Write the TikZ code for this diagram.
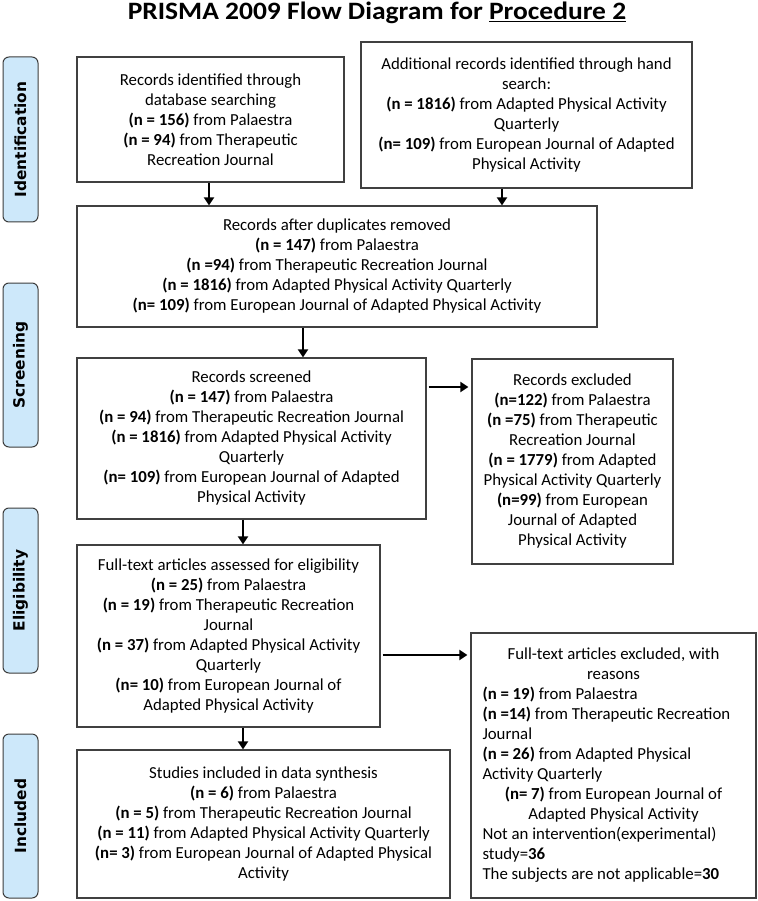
\documentclass[tikz,border=0pt]{standalone}
\usepackage{fontspec}
\setmainfont{Carlito}
\newfontfamily\titlefont{Carlito}[FakeStretch=1.1]
\newfontfamily\phasefont{DejaVu Sans}
\usetikzlibrary{arrows.meta,calc}
\definecolor{phasefill}{RGB}{205,232,250}
\definecolor{phaseline}{RGB}{60,60,60}
\definecolor{boxline}{RGB}{64,64,64}
\newcommand\ctrline[1]{\makebox[262pt][c]{#1}}
\begin{document}
\begin{tikzpicture}[x=1pt,y=-1pt,
  phase/.style={draw=phaseline, fill=phasefill, line width=1pt, rounded corners=6pt,
    rotate=90, inner sep=0pt, font=\phasefont\bfseries\fontsize{15.4}{18}\selectfont},
  box/.style={draw=boxline, line width=1.2pt, inner sep=0pt, align=center,
    font=\fontsize{16.8}{20}\selectfont},
  arr/.style={draw=black, line width=2.6pt, -{Triangle[width=10pt,length=8pt]}},
  ]
\useasboundingbox (0,0) rectangle (757,901);
\node[anchor=base, font=\titlefont\bfseries\fontsize{25}{30}\selectfont] (title) at (377,19.8)
  {PRISMA 2009 Flow Diagram for \underline{Procedure 2}};

\node[phase, minimum width=165pt, minimum height=35pt] (p1) at (20.5,139.5) {Identification};
\node[phase, minimum width=164pt, minimum height=35pt] (p2) at (20.5,365) {Screening};
\node[phase, minimum width=165pt, minimum height=35pt] (p3) at (20.5,590.5) {Eligibility};
\node[phase, minimum width=164pt, minimum height=35pt] (p4) at (20.5,816) {Included};

\node[box, minimum width=267pt, minimum height=125pt] (A) at (210.5,119.5)
 {Records identified through\\ database searching\\ \textbf{(n = 156)} from Palaestra\\ \textbf{(n = 94)} from Therapeutic\\ Recreation Journal};
\node[box, minimum width=331pt, minimum height=146pt] (B) at (526.5,115)
 {Additional records identified through hand\\ search:\\ \textbf{(n = 1816)} from Adapted Physical Activity\\ Quarterly\\ \textbf{(n= 109)} from European Journal of Adapted\\ Physical Activity};
\node[box, minimum width=520pt, minimum height=121pt] (C) at (337,266.5)
 {Records after duplicates removed\\ \textbf{(n = 147)} from Palaestra\\ \textbf{(n =94)} from Therapeutic Recreation Journal\\ \textbf{(n = 1816)} from Adapted Physical Activity Quarterly\\ \textbf{(n= 109)} from European Journal of Adapted Physical Activity};
\node[box, minimum width=349pt, minimum height=161pt] (D) at (251.5,438.5)
 {Records screened\\ \textbf{(n = 147)} from Palaestra\\ \textbf{(n = 94)} from Therapeutic Recreation Journal\\ \textbf{(n = 1816)} from Adapted Physical Activity\\ Quarterly\\ \textbf{(n= 109)} from European Journal of Adapted\\ Physical Activity};
\node[box, minimum width=201pt, minimum height=205pt] (E) at (572.5,461.5)
 {Records excluded\\ \textbf{(n=122)} from Palaestra\\ \textbf{(n =75)} from Therapeutic\\ Recreation Journal\\ \textbf{(n = 1779)} from Adapted\\ Physical Activity Quarterly\\ \textbf{(n=99)} from European\\ Journal of Adapted\\ Physical Activity};
\node[box, minimum width=303pt, minimum height=182pt] (F) at (228.5,636)
 {Full-text articles assessed for eligibility\\ \textbf{(n = 25)} from Palaestra\\ \textbf{(n = 19)} from Therapeutic Recreation\\ Journal\\ \textbf{(n = 37)} from Adapted Physical Activity\\ Quarterly\\ \textbf{(n= 10)} from European Journal of\\ Adapted Physical Activity};
\node[box, minimum width=285pt, minimum height=265pt, text width=262pt, align=flush left] (G) at (613.5,765.5)
 {\ctrline{Full-text articles excluded, with}\\ \ctrline{reasons}\\ \textbf{(n = 19)} from Palaestra\\ \textbf{(n =14)} from Therapeutic Recreation\\ Journal\\ \textbf{(n = 26)} from Adapted Physical\\ Activity Quarterly\\ \ctrline{\textbf{(n= 7)} from European Journal of}\\ \ctrline{Adapted Physical Activity}\\ Not an intervention(experimental)\\ study=\textbf{36}\\ The subjects are not applicable=\textbf{30}};
\node[box, minimum width=373pt, minimum height=148pt] (H) at (263.5,824)
 {Studies included in data synthesis\\ \textbf{(n = 6)} from Palaestra\\ \textbf{(n = 5)} from Therapeutic Recreation Journal\\ \textbf{(n = 11)} from Adapted Physical Activity Quarterly\\ \textbf{(n= 3)} from European Journal of Adapted Physical\\ Activity};

\coordinate (xab) at (209,0);
\coordinate (xbc) at (502,0);
\coordinate (xcd) at (303,0);
\coordinate (xdf) at (243,0);
\coordinate (yde) at (0,387);
\coordinate (yfg) at (0,655);

\draw[arr] (A.south -| xab) -- (C.north -| xab);
\draw[arr] (B.south -| xbc) -- (C.north -| xbc);
\draw[arr] (C.south -| xcd) -- (D.north -| xcd);
\draw[arr] ([xshift=2pt]D.east |- yde) -- ([xshift=-3pt]E.west |- yde);
\draw[arr] (D.south -| xdf) -- (F.north -| xdf);
\draw[arr] ([xshift=2pt]F.east |- yfg) -- ([xshift=-3pt]G.west |- yfg);
\draw[arr] (F.south -| xdf) -- (H.north -| xdf);
\end{tikzpicture}
\end{document}
